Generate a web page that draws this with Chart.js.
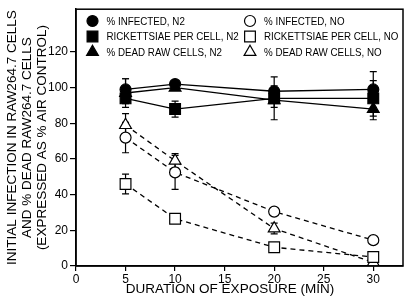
<!DOCTYPE html>
<html>
<head>
<meta charset="utf-8">
<script src="https://cdn.jsdelivr.net/npm/chart.js@4.4.0/dist/chart.umd.min.js"></script>
<style>
  html, body { margin: 0; padding: 0; background: #fff; }
  #wrap { width: 414px; height: 304px; }
</style>
</head>
<body>
<div id="wrap"><canvas id="chart" width="414" height="304"></canvas></div>
<script>
// exposure times (min)
const minutes = [5, 10, 20, 30];

// N2 exposure
const infectedN2 = [99, 102, 98, 99];
const infectedN2Err = [6, 1, 3, 10];
const rickN2 = [94, 88, 94, 94];
const rickN2Err = [3, 4.5, 12, 10];
const deadN2 = [97, 100, 93, 88];
const deadN2Err = [8, 1, 4, 6];

// NO exposure
const infectedNO = [72, 52.5, 30.5, 14.5];
const infectedNOErr = [8.5, 9.5, 1.5, 1];
const rickNO = [46, 26.5, 10.5, 5];
const rickNOErr = [5.5, 1, 1, 1];
const deadNO = [79, 59, 21, 2];
const deadNOErr = [6.5, 4, 3, 1];

const xTicks = [0, 5, 10, 15, 20, 25, 30];
const yTicks = [0, 20, 40, 60, 80, 100, 120];

const yTitle = ['INITIAL INFECTION IN RAW264.7 CELLS', 'AND % DEAD RAW264.7 CELLS', '(EXPRESSED AS % AIR CONTROL)'];
const xTitle = 'DURATION OF EXPOSURE (MIN)';

const FONT = 'Liberation Sans, Arial, Helvetica, sans-serif';

function pts(vals) {
  return minutes.map((m, i) => ({ x: m, y: vals[i] }));
}

function series(label, vals, errs, style, radius, filled, dashed) {
  return {
    label: label,
    data: pts(vals),
    errors: errs,
    borderColor: '#000',
    borderWidth: 1.3,
    borderDash: dashed ? [5, 4] : [],
    pointStyle: style,
    pointRadius: radius,
    pointHoverRadius: radius,
    pointBackgroundColor: filled ? '#000' : '#fff',
    pointBorderColor: '#000',
    pointBorderWidth: 1.2,
    fill: false,
    tension: 0
  };
}

const datasets = [
  series('% INFECTED, NO', infectedNO, infectedNOErr, 'circle', 5.5, false, true),
  series('RICKETTSIAE PER CELL, NO', rickNO, rickNOErr, 'rect', 7.6, false, true),
  series('% DEAD RAW CELLS, NO', deadNO, deadNOErr, 'triangle', 6.8, false, true),
  series('% INFECTED, N2', infectedN2, infectedN2Err, 'circle', 5.5, true, false),
  series('RICKETTSIAE PER CELL, N2', rickN2, rickN2Err, 'rect', 7.6, true, false),
  series('% DEAD RAW CELLS, N2', deadN2, deadN2Err, 'triangle', 6.8, true, false)
];

// legend layout: [dataset index, column, row]
const legendOrder = [[3, 0, 0], [4, 0, 1], [5, 0, 2], [0, 1, 0], [1, 1, 1], [2, 1, 2]];

const errorBars = {
  id: 'errorBars',
  beforeDatasetsDraw(chart) {
    const ctx = chart.ctx;
    const xs = chart.scales.x, ys = chart.scales.y;
    ctx.save();
    ctx.strokeStyle = '#000';
    ctx.lineWidth = 1.2;
    chart.data.datasets.forEach(ds => {
      ds.data.forEach((p, i) => {
        const e = ds.errors[i];
        if (!e) return;
        const x = xs.getPixelForValue(p.x);
        const y1 = ys.getPixelForValue(p.y + e);
        const y2 = ys.getPixelForValue(p.y - e);
        ctx.beginPath();
        ctx.moveTo(x, y1); ctx.lineTo(x, y2);
        ctx.moveTo(x - 3.5, y1); ctx.lineTo(x + 3.5, y1);
        ctx.moveTo(x - 3.5, y2); ctx.lineTo(x + 3.5, y2);
        ctx.stroke();
      });
    });
    ctx.restore();
  }
};

const decorations = {
  id: 'decorations',
  afterDraw(chart) {
    const ctx = chart.ctx;
    const a = chart.chartArea;
    ctx.save();
    // frame
    ctx.strokeStyle = '#000';
    ctx.lineWidth = 1.5;
    ctx.strokeRect(a.left, a.top, a.right - a.left, a.bottom - a.top);

    // legend (text slightly condensed, like the original typeface)
    ctx.font = '11px ' + FONT;
    ctx.textBaseline = 'middle';
    ctx.textAlign = 'left';
    const colX = [92.5, 250];
    const rowY = [21, 36.5, 52];
    legendOrder.forEach(([di, c, r]) => {
      const ds = chart.data.datasets[di];
      ctx.fillStyle = ds.pointBackgroundColor;
      ctx.strokeStyle = '#000';
      ctx.lineWidth = 1.2;
      Chart.helpers.drawPoint(ctx, {
        pointStyle: ds.pointStyle, radius: ds.pointRadius, rotation: 0, borderWidth: 1.2
      }, colX[c], rowY[r]);
      ctx.fillStyle = '#000';
      ctx.save();
      ctx.translate(colX[c] + 14, rowY[r] + 0.5);
      ctx.scale(0.89, 1);
      ctx.fillText(ds.label, 0, 0);
      ctx.restore();
    });

    // axis titles
    ctx.fillStyle = '#000';
    ctx.textAlign = 'center';
    ctx.font = '13.5px ' + FONT;
    ctx.fillText(xTitle, 230, 289);
    ctx.translate(12, (a.top + a.bottom) / 2);
    ctx.rotate(-Math.PI / 2);
    yTitle.forEach((t, i) => ctx.fillText(t, 0, i * 15));
    ctx.restore();
  }
};

new Chart(document.getElementById('chart'), {
  type: 'line',
  data: { datasets: datasets },
  options: {
    responsive: false,
    animation: false,
    events: [],
    layout: { padding: { top: 7, right: 11, left: 0, bottom: 0 } },
    plugins: { legend: { display: false }, tooltip: { enabled: false } },
    scales: {
      x: {
        type: 'linear',
        min: 0,
        max: 33,
        afterBuildTicks: s => { s.ticks = xTicks.map(v => ({ value: v })); },
        afterFit: s => { s.height = 38; },
        ticks: { color: '#000', font: { family: FONT, size: 12 }, padding: 1, maxRotation: 0 },
        grid: { drawOnChartArea: false, drawTicks: true, tickLength: 5, color: '#000', lineWidth: 1.2 },
        border: { color: '#000', width: 1.5 }
      },
      y: {
        min: 0,
        max: 144,
        afterBuildTicks: s => { s.ticks = yTicks.map(v => ({ value: v })); },
        afterFit: s => { s.width = 76; },
        ticks: { color: '#000', font: { family: FONT, size: 12 }, padding: 2 },
        grid: { drawOnChartArea: false, drawTicks: true, tickLength: 6, color: '#000', lineWidth: 1.2 },
        border: { color: '#000', width: 1.5 }
      }
    }
  },
  plugins: [errorBars, decorations]
});
</script>
</body>
</html>
